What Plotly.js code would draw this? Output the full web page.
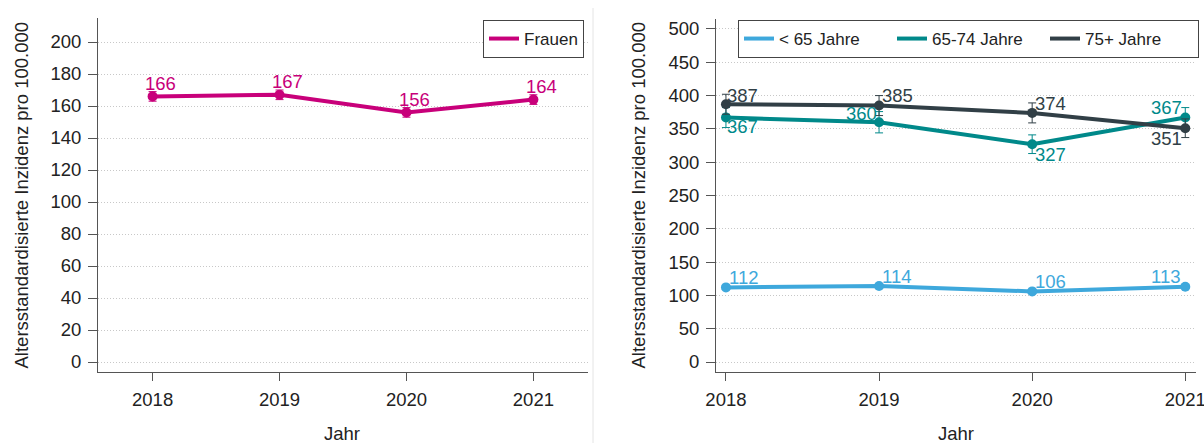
<!DOCTYPE html>
<html>
<head>
<meta charset="utf-8">
<script src="https://cdn.plot.ly/plotly-3.0.1.min.js"></script>
<style>html,body{margin:0;padding:0;background:#fff}#chart{width:1204px;height:443px}</style>
</head>
<body>
<div id="chart"></div>
<script>
const years = [2018, 2019, 2020, 2021];
const frauen = [166, 167, 156, 164];
const frauenErr = [3, 3, 3, 3];
const under65 = [112, 114, 106, 113];
const under65Err = [3, 3, 3, 3];
const age6574 = [367, 360, 327, 367];
const age6574Err = [15, 16, 14, 15];
const age75 = [387, 385, 374, 351];
const age75Err = [15, 15, 15, 14];
const tickYearLabels = ['2018', '2019', '2020', '2021'];
const leftTicks = [0, 20, 40, 60, 80, 100, 120, 140, 160, 180, 200];
const rightTicks = [0, 50, 100, 150, 200, 250, 300, 350, 400, 450, 500];
const yTitle = 'Altersstandardisierte Inzidenz pro 100.000';
const xTitle = 'Jahr';

const C_FRAUEN = '#c8007a';
const C_U65 = '#3ea8dc';
const C_6574 = '#00898a';
const C_75 = '#313f46';
const FONT = 'Liberation Sans, Arial, sans-serif';
const TXT = '#222';
const FS = 18.5;

function lineTrace(y, color, name, xa, ya, leg) {
  return {x: years, y: y, xaxis: xa, yaxis: ya, mode: 'lines', name: name,
    line: {color: color, width: 4}, legend: leg, hoverinfo: 'skip'};
}
function markerTrace(y, err, color, xa, ya) {
  return {x: years, y: y, xaxis: xa, yaxis: ya, mode: 'markers', showlegend: false,
    marker: {color: color, size: 10},
    error_y: {type: 'data', array: err, visible: true, color: color, thickness: 1, width: 4}};
}

const traces = [
  lineTrace(frauen, C_FRAUEN, 'Frauen', 'x', 'y', 'legend'),
  markerTrace(frauen, frauenErr, C_FRAUEN, 'x', 'y'),
  lineTrace(under65, C_U65, '< 65 Jahre', 'x2', 'y2', 'legend2'),
  lineTrace(age6574, C_6574, '65-74 Jahre', 'x2', 'y2', 'legend2'),
  lineTrace(age75, C_75, '75+ Jahre', 'x2', 'y2', 'legend2'),
  markerTrace(under65, under65Err, C_U65, 'x2', 'y2'),
  markerTrace(age6574, age6574Err, C_6574, 'x2', 'y2'),
  markerTrace(age75, age75Err, C_75, 'x2', 'y2')
];

const annotations = [];
function addLabels(vals, color, xa, ya, shifts) {
  vals.forEach((v, i) => {
    annotations.push({x: years[i], y: v, xref: xa, yref: ya, text: String(v), showarrow: false,
      xshift: shifts[i][0], yshift: shifts[i][1], font: {family: FONT, size: FS, color: color}});
  });
}
addLabels(frauen, C_FRAUEN, 'x', 'y', [[8, 13], [8, 13], [8, 13], [8, 13]]);
addLabels(under65, C_U65, 'x2', 'y2', [[18, 10], [18, 10], [18, 10], [-19, 10]]);
addLabels(age6574, C_6574, 'x2', 'y2', [[17, -9], [-18, 9], [18, -10], [-19, 10]]);
addLabels(age75, C_75, 'x2', 'y2', [[17, 9], [18, 10], [18, 9], [-19, -10]]);

// axis titles as text annotations placed in paper coordinates
const titleFont = {family: FONT, size: FS, color: TXT};
annotations.push({xref: 'paper', yref: 'paper', x: 21 / 1204, y: 1 - 195.5 / 443, text: yTitle,
  textangle: -90, showarrow: false, xanchor: 'center', yanchor: 'middle', font: titleFont});
annotations.push({xref: 'paper', yref: 'paper', x: 638 / 1204, y: 1 - 195.5 / 443, text: yTitle,
  textangle: -90, showarrow: false, xanchor: 'center', yanchor: 'middle', font: titleFont});
annotations.push({xref: 'paper', yref: 'paper', x: 342 / 1204, y: 1 - 433 / 443, text: xTitle,
  showarrow: false, xanchor: 'center', yanchor: 'middle', font: titleFont});
annotations.push({xref: 'paper', yref: 'paper', x: 956 / 1204, y: 1 - 433 / 443, text: xTitle,
  showarrow: false, xanchor: 'center', yanchor: 'middle', font: titleFont});

function yaxis(range, ticks) {
  return {range: range, tickvals: ticks, ticktext: ticks.map(String), showgrid: true,
    gridcolor: '#c8c8c8', griddash: '1px,2px', gridwidth: 1, zeroline: false,
    showline: true, linecolor: '#555', linewidth: 1, ticks: 'outside', ticklen: 9,
    tickcolor: '#555', ticklabelstandoff: 3, tickfont: {family: FONT, size: FS, color: TXT},
    fixedrange: true};
}
function xaxis(range) {
  return {range: range, tickvals: years, ticktext: tickYearLabels, showgrid: false,
    zeroline: false, showline: true, linecolor: '#555', linewidth: 1, ticks: 'outside',
    ticklen: 8, tickcolor: '#555', ticklabelstandoff: 3, ticklabeloverflow: 'allow',
    tickfont: {family: FONT, size: FS, color: TXT}, fixedrange: true};
}

const layout = {
  width: 1204, height: 443,
  margin: {l: 0, r: 0, t: 0, b: 0},
  paper_bgcolor: '#fff', plot_bgcolor: '#fff',
  font: {family: FONT, size: FS, color: TXT},
  xaxis: Object.assign(xaxis([2017.57, 2021.43]), {domain: [98 / 1204, 588 / 1204], anchor: 'y'}),
  yaxis: Object.assign(yaxis([-6.25, 215], leftTicks), {domain: [71 / 443, 425 / 443], anchor: 'x'}),
  xaxis2: Object.assign(xaxis([2017.935, 2021.07]), {domain: [716 / 1204, 1196 / 1204], anchor: 'y2'}),
  yaxis2: Object.assign(yaxis([-15, 515], rightTicks), {domain: [71 / 443, 424 / 443], anchor: 'x2'}),
  legend: {x: 584 / 1204, y: 1 - 20 / 443, xanchor: 'right', yanchor: 'top', xref: 'paper', yref: 'paper',
    bgcolor: '#fff', bordercolor: '#444', borderwidth: 1, orientation: 'h',
    font: {family: FONT, size: 17, color: TXT}, itemwidth: 30},
  legend2: {x: 1199 / 1204, y: 1 - 20 / 443, xanchor: 'right', yanchor: 'top', xref: 'paper', yref: 'paper',
    bgcolor: '#fff', bordercolor: '#444', borderwidth: 1, orientation: 'h',
    font: {family: FONT, size: 17, color: TXT}, itemwidth: 30, entrywidth: 108},
  shapes: [{type: 'line', xref: 'paper', yref: 'paper', x0: 593 / 1204, x1: 593 / 1204, y0: 0, y1: 1 - 8 / 443,
    line: {color: '#e4e4e4', width: 1}}],
  annotations: annotations,
  showlegend: true
};

Plotly.newPlot('chart', traces, layout, {staticPlot: true, displayModeBar: false});
</script>
</body>
</html>
